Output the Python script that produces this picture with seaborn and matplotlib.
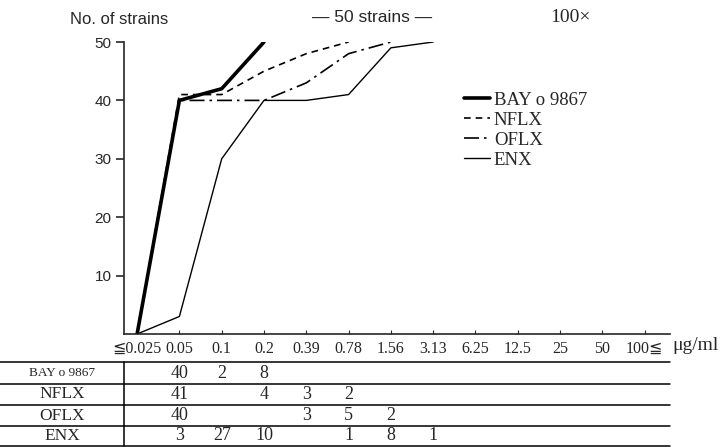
import numpy as np
import matplotlib
matplotlib.use("Agg")
import matplotlib.pyplot as plt
import matplotlib.transforms as mtransforms
from matplotlib.lines import Line2D
import seaborn as sns

# MIC categories (ug/ml)
mic_labels = ["≦0.025", "0.05", "0.1", "0.2", "0.39", "0.78", "1.56",
              "3.13", "6.25", "12.5", "25", "50", "100≦"]

drugs = ["BAY o 9867", "NFLX", "OFLX", "ENX"]

# number of strains inhibited at each MIC (table under the chart)
bay_counts = [0, 40, 2, 8, 0, 0, 0, 0, 0, 0, 0, 0, 0]
nflx_counts = [0, 41, 0, 4, 3, 2, 0, 0, 0, 0, 0, 0, 0]
oflx_counts = [0, 40, 0, 0, 3, 5, 2, 0, 0, 0, 0, 0, 0]
enx_counts = [0, 3, 27, 10, 0, 1, 8, 1, 0, 0, 0, 0, 0]
total = 50

sns.set_style("ticks")
serif = ["Liberation Serif", "DejaVu Sans", "Noto Sans CJK JP"]
plt.rcParams["font.family"] = serif

fig = plt.figure(figsize=(7.22, 4.47), dpi=100)
ax = fig.add_axes([124 / 722, 1 - 334 / 447, 546 / 722, 292 / 447])

styles = {
    "BAY o 9867": dict(linewidth=2.6, linestyle="-"),
    "NFLX": dict(linewidth=1.2, linestyle=(0, (4, 3))),
    "OFLX": dict(linewidth=1.2, linestyle=(0, (9, 3, 1.5, 3))),
    "ENX": dict(linewidth=1.0, linestyle="-"),
}
all_counts = [bay_counts, nflx_counts, oflx_counts, enx_counts]

for name, counts in zip(drugs, all_counts):
    cum = np.cumsum(counts)
    last = int(np.argmax(cum >= total))
    x = np.arange(last + 1)
    sns.lineplot(x=x, y=cum[:last + 1], ax=ax, color="black", label=name,
                 **styles[name])

ax.set_xlim(-0.31, 12.6)
ax.set_ylim(0, 50)
ax.set_yticks([10, 20, 30, 40, 50])
ax.set_xticks(range(len(mic_labels)))
ax.set_xticklabels(mic_labels)
ax.tick_params(axis="x", direction="in", length=3, pad=5)
ax.tick_params(axis="y", direction="out", length=6, width=1.2, pad=3)
for t in ax.get_xticklabels():
    t.set_family(serif)
    t.set_fontsize(11.5)
for t in ax.get_yticklabels():
    t.set_family("Liberation Sans")
    t.set_fontsize(11)
sns.despine(ax=ax)
for s in ["left", "bottom"]:
    ax.spines[s].set_linewidth(1.2)
ax.set_xlabel("")
ax.set_ylabel("")

leg = ax.legend(loc="upper left", bbox_to_anchor=(447 / 722, 1 - 75 / 447),
                bbox_transform=fig.transFigure, frameon=False,
                handlelength=1.4, handletextpad=0.2, labelspacing=0.15,
                prop={"family": "Liberation Serif", "size": 13.5})

fig.text(70 / 722, 1 - 20 / 447, "No. of strains", family="Liberation Sans",
         fontsize=12, va="center", ha="left")
fig.text(372 / 722, 1 - 18 / 447, "— 50 strains —", family="Liberation Sans",
         fontsize=12.5, va="center", ha="center")
fig.text(570 / 722, 1 - 18 / 447, "100×", family="Liberation Serif",
         fontsize=14, va="center", ha="center")
fig.text(672 / 722, 1 - 345 / 447, "μg/ml", family="Liberation Serif",
         fontsize=14, va="center", ha="left")

# table under the chart
row_lines = [362, 384, 405, 426, 446]
for yp in row_lines:
    fig.add_artist(Line2D([0, 670 / 722], [1 - yp / 447] * 2, color="black",
                          linewidth=1.1))
fig.add_artist(Line2D([124 / 722] * 2, [1 - 362 / 447, 1 - 446 / 447],
                      color="black", linewidth=1.1))

trans = mtransforms.blended_transform_factory(ax.transData, fig.transFigure)
label_sizes = [9.5, 12.5, 12.5, 12.5]
for i, (name, counts) in enumerate(zip(drugs, all_counts)):
    yc = 1 - (row_lines[i] + row_lines[i + 1]) / 2 / 447
    fig.text(62 / 722, yc, name, family="Liberation Serif",
             fontsize=label_sizes[i], ha="center", va="center")
    for j, c in enumerate(counts):
        if c:
            ax.text(j, yc, str(c), transform=trans, ha="center", va="center",
                    fontsize=13, family="Liberation Serif", clip_on=False)

fig.savefig("out.png", dpi=100)
